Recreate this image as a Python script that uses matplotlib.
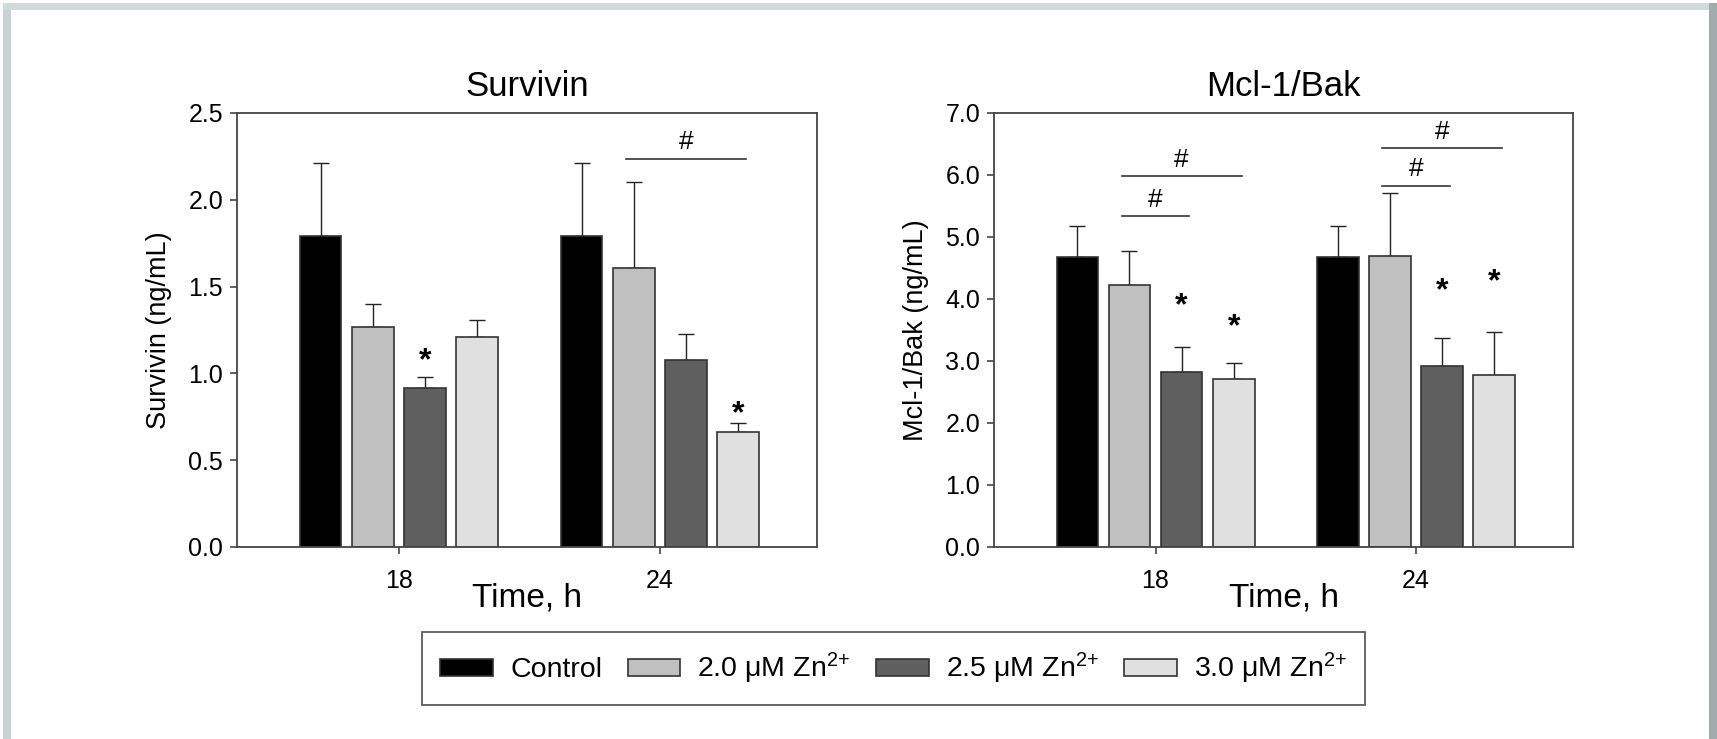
import numpy as np
import matplotlib.pyplot as plt
from matplotlib.patches import Rectangle, Patch

plt.rcParams['font.family'] = ['Liberation Sans', 'DejaVu Sans']
plt.rcParams['mathtext.fontset'] = 'custom'
plt.rcParams['mathtext.rm'] = 'Liberation Sans'
plt.rcParams['mathtext.default'] = 'regular'

# Data
groups = ['18', '24']
series = ['Control', '2.0 μM Zn$^{2{+}}$', '2.5 μM Zn$^{2{+}}$', '3.0 μM Zn$^{2{+}}$']
colors = ['#000000', '#c0c0c0', '#5f5f5f', '#e0e0e0']

surv_ctrl = [1.79, 1.79]
surv_20 = [1.27, 1.61]
surv_25 = [0.915, 1.08]
surv_30 = [1.21, 0.66]
surv_ctrl_err = [0.42, 0.42]
surv_20_err = [0.13, 0.49]
surv_25_err = [0.065, 0.145]
surv_30_err = [0.095, 0.055]

mcl_ctrl = [4.67, 4.67]
mcl_20 = [4.23, 4.69]
mcl_25 = [2.83, 2.92]
mcl_30 = [2.71, 2.77]
mcl_ctrl_err = [0.50, 0.50]
mcl_20_err = [0.54, 1.02]
mcl_25_err = [0.39, 0.45]
mcl_30_err = [0.26, 0.69]

# significance marks: (group, series, y)
surv_stars = [(0, 2, 1.136), (1, 3, 0.826)]
mcl_stars = [(0, 2, 4.07), (0, 3, 3.73), (1, 2, 4.30), (1, 3, 4.45)]
# brackets: (group, from series, to series, y)
surv_hash = [(1, 1, 3, 2.237)]
mcl_hash = [(0, 1, 2, 5.34), (0, 1, 3, 5.98), (1, 1, 2, 5.83), (1, 1, 3, 6.43)]

W, H = 1717, 739
fig = plt.figure(figsize=(W / 100, H / 100), dpi=100)
fig.patch.set_facecolor('white')

# card frame around the picture
fig.patches.append(Rectangle((3 / W, 0), 8 / W, 1 - 3 / H, transform=fig.transFigure,
                             facecolor='#c9d2d4', edgecolor='none', zorder=-4))
fig.patches.append(Rectangle((3 / W, 1 - 10 / H), (1709 - 3) / W, 7 / H, transform=fig.transFigure,
                             facecolor='#d2d9da', edgecolor='none', zorder=-4))
fig.patches.append(Rectangle((1709 / W, 0), 8 / W, 1 - 3 / H, transform=fig.transFigure,
                             facecolor='#a2abad', edgecolor='none', zorder=-4))

ax1 = fig.add_axes([237 / W, 1 - 547 / H, 580 / W, 434 / H])
ax2 = fig.add_axes([994 / W, 1 - 547 / H, 579 / W, 434 / H])

x = np.arange(len(groups))
width = 0.16
step = 0.2
offsets = [-1.5 * step, -0.5 * step, 0.5 * step, 1.5 * step]


def draw_panel(ax, vals, errs, title, ylabel, ymax, ystep, stars, hashes):
    for i, (v, e) in enumerate(zip(vals, errs)):
        pos = x + offsets[i]
        ax.bar(pos, v, width, color=colors[i], edgecolor='#333333', linewidth=1.2, zorder=2)
        ax.errorbar(pos, v, yerr=[np.zeros(len(e)), e], fmt='none', ecolor='#222222',
                    elinewidth=1.0, capsize=5.5, capthick=1.0, zorder=1)
    for g, s, y in stars:
        ax.annotate('*', (x[g] + offsets[s], y), xytext=(0, -8), textcoords='offset points',
                    ha='center', va='center', fontsize=23, fontweight='bold')
    for g, s0, s1, y in hashes:
        x0 = x[g] + offsets[s0] - 0.03
        x1 = x[g] + offsets[s1] + 0.03
        ax.plot([x0, x1], [y, y], color='#333333', lw=1.2)
        ax.annotate('#', ((x0 + x1) / 2, y), xytext=(0, 3), textcoords='offset points',
                    ha='center', va='bottom', fontsize=19)
    ticks = np.arange(0, ymax + 1e-9, ystep)
    ax.set_xlim(-0.62, 1.602)
    ax.set_ylim(0, ymax)
    ax.set_yticks(ticks)
    ax.set_yticklabels(['%.1f' % t for t in ticks])
    ax.set_xticks(x)
    ax.set_xticklabels(groups)
    ax.tick_params(axis='y', direction='out', length=5, width=1.2, pad=5, labelsize=18, color='#444444')
    ax.tick_params(axis='x', direction='out', length=5, width=1.2, pad=11, labelsize=18, color='#444444')
    for sp in ax.spines.values():
        sp.set_linewidth(1.3)
        sp.set_color('#444444')
    ax.text(0.5, 1.062, title, transform=ax.transAxes, ha='center', va='center', fontsize=25)
    ax.text(0.5, -0.118, 'Time, h', transform=ax.transAxes, ha='center', va='center', fontsize=24)
    ax.set_ylabel(ylabel, fontsize=19.5, labelpad=12)


draw_panel(ax1, [surv_ctrl, surv_20, surv_25, surv_30],
           [surv_ctrl_err, surv_20_err, surv_25_err, surv_30_err],
           'Survivin', 'Survivin (ng/mL)', 2.5, 0.5, surv_stars, surv_hash)
draw_panel(ax2, [mcl_ctrl, mcl_20, mcl_25, mcl_30],
           [mcl_ctrl_err, mcl_20_err, mcl_25_err, mcl_30_err],
           'Mcl-1/Bak', 'Mcl-1/Bak (ng/mL)', 7.0, 1.0, mcl_stars, mcl_hash)

handles = [Patch(facecolor=c, edgecolor='#333333', linewidth=1.2) for c in colors]
leg = fig.legend(handles, series, loc='center', bbox_to_anchor=(893.5 / W, 1 - 668.5 / H),
                 ncol=4, fontsize=20.5, frameon=True, fancybox=False, handlelength=1.85,
                 handleheight=0.55, handletextpad=0.6, columnspacing=0.9, borderpad=0.65)
leg.get_frame().set_edgecolor('#333333')
leg.get_frame().set_linewidth(1.3)

fig.savefig('out.png', dpi=100, facecolor=fig.get_facecolor())
